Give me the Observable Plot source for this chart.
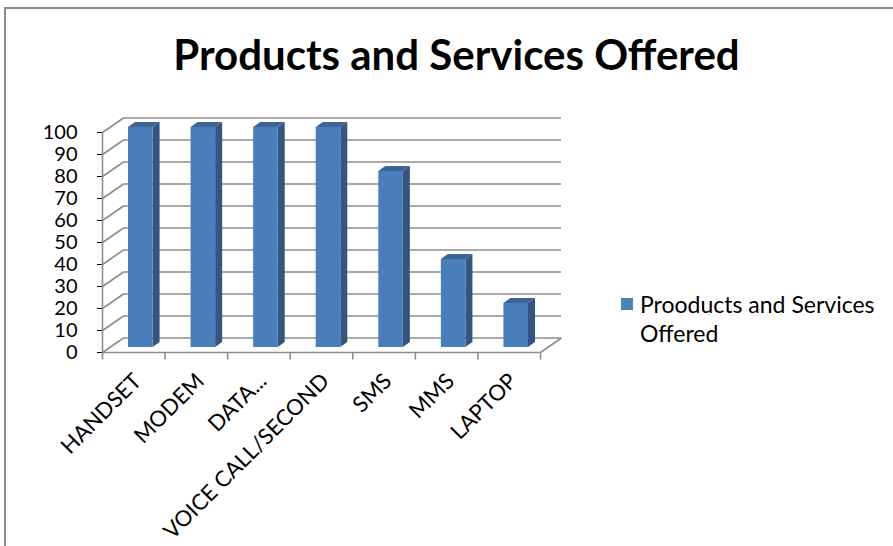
<!DOCTYPE html>
<html>
<head>
<meta charset="utf-8">
<script src="https://cdn.jsdelivr.net/npm/d3@7"></script>
<script src="https://cdn.jsdelivr.net/npm/@observablehq/plot@0.6"></script>
<style>
  html, body { margin: 0; padding: 0; background: #fff; }
  #wrap { position: relative; width: 893px; height: 546px; overflow: hidden; font-family: Lato, "Open Sans", sans-serif; }
  #border { position: absolute; left: 4px; top: 7px; width: 1000px; height: 1000px; border: 2px solid #8a8a8a; box-sizing: border-box; }
  #title { position: absolute; left: 0; top: 33px; width: 913px; text-align: center; font-weight: bold; font-size: 42px; line-height: 42px; color: #000; white-space: nowrap; }
  #chart { position: absolute; left: 0; top: 0; }
  #legend { position: absolute; left: 621px; top: 290px; width: 270px; font-size: 23px; line-height: 29px; color: #000; }
  #legend .sw { position: absolute; left: 0; top: 8px; width: 12px; height: 12px; background: #4F81BD; }
  #legend .txt { position: absolute; left: 19px; top: 0; width: 252px; }
</style>
</head>
<body>
<div id="wrap">
  <div id="border"></div>
  <div id="chart"></div>
  <div id="title"></div>
  <div id="legend"><div class="sw"></div><div class="txt"></div></div>
</div>
<script>
// ---- data ----
const chartTitle = "Products and Services Offered";
const seriesName = "Prooducts and Services Offered";
const categories = ["HANDSET", "MODEM", "DATA...", "VOICE CALL/SECOND", "SMS", "MMS", "LAPTOP"];
const values = [100, 100, 100, 100, 80, 40, 20];
const yTicks = [0, 10, 20, 30, 40, 50, 60, 70, 80, 90, 100];

// ---- layout / style ----
const W = 893, H = 546;
const mL = 102, mR = 353, mT = 132, mB = 194;
const kx = (W - mL - mR) / categories.length; // px per category unit
const ky = (H - mT - mB) / 100;               // px per value unit
const WALL_DX = 21, WALL_DY = 14.5;          // depth of the 3D box
const BAR_DX = 7, BAR_DY = 5;                 // bar front-face offset
const DEP_DX = 7, DEP_DY = 5;                 // bar depth
const INSET = 19;                             // bar inset in band
const GRID = "#8c8c8c";
const FRONT = "#4A7EBB", SIDE = "#33557F", TOP = "#3D6494";

document.getElementById("title").textContent = chartTitle;
document.querySelector("#legend .txt").textContent = seriesName;

const data = categories.map((c, i) => ({cat: c, i, v: values[i]}));

const leftX = d => d.i + INSET / kx;
const rightX = d => d.i + 1 - INSET / kx;
const ddx = DEP_DX / kx, ddy = DEP_DY / ky;

const sidePts = data.flatMap(d => [
  {cat: d.cat, x: rightX(d), y1: 0, y2: d.v},
  {cat: d.cat, x: rightX(d) + ddx, y1: ddy, y2: d.v + ddy}
]);
const topPts = data.flatMap(d => [
  {cat: d.cat, y: d.v, x1: leftX(d), x2: rightX(d)},
  {cat: d.cat, y: d.v + ddy, x1: leftX(d) + ddx, x2: rightX(d) + ddx}
]);

const plot = Plot.plot({
  width: W, height: H,
  marginLeft: mL, marginRight: mR, marginTop: mT, marginBottom: mB,
  style: {fontFamily: "Lato, 'Open Sans', sans-serif", fontSize: "20px", color: "#000", background: "transparent", overflow: "visible"},
  x: {type: "linear", domain: [0, categories.length], axis: null},
  y: {domain: [0, 100], ticks: yTicks, tickSize: 5, tickPadding: 20, label: null, tickFormat: d => String(d)},
  marks: [
    Plot.ruleY(yTicks, {y: d => d, dx: WALL_DX, dy: -WALL_DY, stroke: GRID, strokeWidth: 1.6}),
    Plot.link(yTicks, {x1: () => 0, y1: d => d, x2: () => WALL_DX / kx, y2: d => d + WALL_DY / ky, stroke: GRID, strokeWidth: 1.6}),
    Plot.link([categories.length], {x1: d => d, y1: () => 0, x2: d => d + WALL_DX / kx, y2: () => WALL_DY / ky, stroke: GRID, strokeWidth: 1.6}),
    Plot.ruleY([0], {y: d => d, stroke: GRID, strokeWidth: 1.6}),
    Plot.ruleX([0], {x: d => d, y1: () => 0, y2: () => 100, stroke: GRID, strokeWidth: 1.6}),
    Plot.link(d3.range(categories.length + 1), {x1: d => d, x2: d => d, y1: () => 0, y2: () => -7 / ky, stroke: GRID, strokeWidth: 1.6}),
    Plot.areaY(sidePts, {x: "x", y1: "y1", y2: "y2", z: "cat", fill: SIDE, dx: BAR_DX, dy: -BAR_DY, curve: "linear"}),
    Plot.areaX(topPts, {y: "y", x1: "x1", x2: "x2", z: "cat", fill: TOP, dx: BAR_DX, dy: -BAR_DY, curve: "linear"}),
    Plot.rectY(data, {x1: "i", x2: d => d.i + 1, y1: () => 0, y2: "v", insetLeft: INSET, insetRight: INSET, fill: FRONT, dx: BAR_DX, dy: -BAR_DY}),
    Plot.text(data, {x: d => d.i + 0.5, y: () => 0, text: "cat", rotate: -45, textAnchor: "end", dx: 4, dy: 25, fontSize: 22, fill: "#000"})
  ]
});
document.getElementById("chart").appendChild(plot);
</script>
</body>
</html>
